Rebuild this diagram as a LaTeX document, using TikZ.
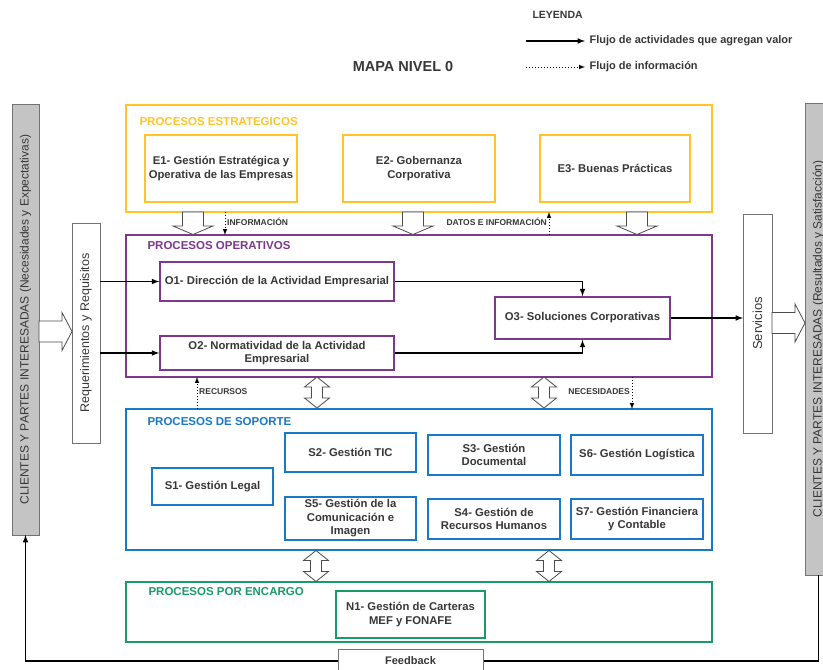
\documentclass[tikz,border=0pt]{standalone}
\usepackage{fontspec}
\setmainfont{Liberation Sans}
\usepackage{xcolor}

\definecolor{estrat}{RGB}{255,196,40}
\definecolor{operat}{RGB}{125,55,140}
\definecolor{soport}{RGB}{25,120,200}
\definecolor{encarg}{RGB}{25,155,105}
\definecolor{boxtext}{RGB}{55,55,55}
\definecolor{clientgray}{RGB}{196,196,196}

\tikzset{
  group/.style={draw, line width=1.8pt, outer sep=0pt, minimum width=586pt},
  proc/.style={draw, line width=1.6pt, fill=white, text=boxtext, align=center, inner sep=1pt,
    font=\bfseries\fontsize{11.3}{13.5}\selectfont},
  grouplabel/.style={anchor=west, font=\bfseries\fontsize{11.5}{13}\selectfont},
  legendtext/.style={anchor=west, text=boxtext, font=\bfseries\fontsize{11}{13}\selectfont},
  infolabel/.style={text=boxtext, font=\bfseries\fontsize{8.5}{10}\selectfont, inner sep=1pt},
  sidebox/.style={draw=black!55, line width=0.8pt, outer sep=0pt},
  sidetext/.style={rotate=90, text=boxtext, font=\fontsize{12}{14}\selectfont},
  flow/.style={line width=1.5pt, -latex},
  info/.style={line width=1pt, dotted, -latex},
  hollow/.style={draw=black!70, line width=0.8pt, fill=white},
  blockdown/.pic={\draw[hollow] (-10.5,0) -- (10.5,0) -- (10.5,14) -- (20,14) -- (0,22.5) -- (-20,14) -- (-10.5,14) -- cycle;},
  blockright/.pic={\draw[hollow] (0,-10.5) -- (23,-10.5) -- (23,-19) -- (33,0) -- (23,19) -- (23,10.5) -- (0,10.5) -- cycle;},
  blockupdown/.pic={\draw[hollow] (0,0) -- (12.5,10) -- (5.5,10) -- (5.5,21) -- (12.5,21) -- (0,31) -- (-12.5,21) -- (-5.5,21) -- (-5.5,10) -- (-12.5,10) -- cycle;}
}

\begin{document}
\begin{tikzpicture}[x=1pt,y=-1pt]
    \useasboundingbox (0,0) rectangle (823,670);
    % Title and legend:
    \node[text=boxtext, font=\bfseries\fontsize{14.5}{16}\selectfont] (title) at (403,67) {MAPA NIVEL 0};
    \node[legendtext, font=\bfseries\fontsize{10.5}{12}\selectfont] (legend) at (529,15) {LEYENDA};
    \coordinate (legA1) at (526,41);
    \coordinate (legA2) at (585,41);
    \coordinate (legB1) at (526,67);
    \coordinate (legB2) at (585,67);
    \draw[flow] (legA1) -- (legA2);
    \draw[info] (legB1) -- (legB2);
    \node[legendtext] (legflow) at (586,41) {Flujo de actividades que agregan valor};
    \node[legendtext] (leginfo) at (586,67) {Flujo de información};

    % Process groups:
    \node[group, draw=estrat, minimum height=107pt] (estrategicos) at (419,158.5) {};
    \node[group, draw=operat, minimum height=142pt] (operativos) at (419,306) {};
    \node[group, draw=soport, minimum height=141pt] (soporte) at (419,479.5) {};
    \node[group, draw=encarg, minimum height=60pt] (encargo) at (419,612) {};
    \node[grouplabel, text=estrat] (lblE) at (136,122) {PROCESOS ESTRATEGICOS};
    \node[grouplabel, text=operat] (lblO) at (144,246) {PROCESOS OPERATIVOS};
    \node[grouplabel, text=soport] (lblS) at (144,422) {PROCESOS DE SOPORTE};
    \node[grouplabel, text=encarg] (lblN) at (145,592) {PROCESOS POR ENCARGO};

    % Strategic processes:
    \node[proc, draw=estrat, minimum width=152pt, minimum height=67pt] (E1) at (221,168.5) {E1- Gestión Estratégica y\\Operativa de las Empresas};
    \node[proc, draw=estrat, minimum width=152pt, minimum height=67pt] (E2) at (419,168.5) {E2- Gobernanza\\Corporativa};
    \node[proc, draw=estrat, minimum width=150pt, minimum height=67pt] (E3) at (615,168.5) {E3- Buenas Prácticas};

    % Operative processes:
    \node[proc, draw=operat, minimum width=234pt, minimum height=39pt] (O1) at (277,281.5) {O1- Dirección de la Actividad Empresarial};
    \node[proc, draw=operat, minimum width=234pt, minimum height=34pt] (O2) at (277,353) {O2- Normatividad de la Actividad\\Empresarial};
    \node[proc, draw=operat, minimum width=175pt, minimum height=42pt] (O3) at (582.5,318) {O3- Soluciones Corporativas};

    % Support processes:
    \node[proc, draw=soport, minimum width=121pt, minimum height=37pt] (S1) at (212.5,486.5) {S1- Gestión Legal};
    \node[proc, draw=soport, minimum width=131pt, minimum height=39pt] (S2) at (350.5,452.5) {S2- Gestión TIC};
    \node[proc, draw=soport, minimum width=132pt, minimum height=40pt] (S3) at (494,455) {S3- Gestión\\Documental};
    \node[proc, draw=soport, minimum width=132pt, minimum height=40pt] (S6) at (637,455) {S6- Gestión Logística};
    \node[proc, draw=soport, minimum width=131pt, minimum height=43pt] (S5) at (350.5,518.5) {S5- Gestión de la\\Comunicación e\\Imagen};
    \node[proc, draw=soport, minimum width=132pt, minimum height=40pt] (S4) at (494,519) {S4- Gestión de\\Recursos Humanos};
    \node[proc, draw=soport, minimum width=132pt, minimum height=40pt] (S7) at (637,519) {S7- Gestión Financiera\\y Contable};

    % Processes on commission:
    \node[proc, draw=encarg, minimum width=149pt, minimum height=47pt] (N1) at (410.5,614.5) {N1- Gestión de Carteras\\MEF y FONAFE};

    % Clients, requirements and services:
    \node[sidebox, fill=clientgray, minimum width=27pt, minimum height=431pt] (clientin) at (25.5,319.5) {};
    \node[sidetext] (clientintxt) at (clientin) {CLIENTES Y PARTES INTERESADAS (Necesidades y Expectativas)};
    \node[sidebox, fill=clientgray, minimum width=27pt, minimum height=472pt] (clientout) at (818.5,339) {};
    \node[sidetext] (clientouttxt) at (clientout) {CLIENTES Y PARTES INTERESADAS (Resultados y Satisfacción)};
    \node[sidebox, fill=white, minimum width=28pt, minimum height=220pt] (req) at (86,333) {};
    \node[sidetext, font=\fontsize{12.5}{14}\selectfont] (reqtxt) at (req) {Requerimientos y Requisitos};
    \node[sidebox, fill=white, minimum width=29pt, minimum height=219pt] (serv) at (757.5,323.5) {};
    \node[sidetext, font=\fontsize{13}{14}\selectfont] (servtxt) at (serv) {Servicios};

    % Value flows:
    \draw[flow] (req.east |- O1.west) -- (O1.west);
    \draw[flow] (req.east |- O2.west) -- (O2.west);
    \draw[flow] (O1.east) -| (O3.north);
    \draw[flow] (O2.east) -| (O3.south);
    \draw[flow] (O3.east) -- (serv.west |- O3.east);

    % Block arrows:
    \pic at (193,212) {blockdown};
    \pic at (413,212) {blockdown};
    \pic at (637,212) {blockdown};
    \pic at (39,331.5) {blockright};
    \pic at (772,323) {blockright};
    \pic at (317,377) {blockupdown};
    \pic at (544,377) {blockupdown};
    \pic at (316,550.5) {blockupdown};
    \pic at (549,550.5) {blockupdown};

    % Information flows:
    \coordinate (xInfo) at (225,0);
    \coordinate (xDatos) at (549,0);
    \coordinate (xRec) at (197,0);
    \coordinate (xNec) at (632,0);
    \draw[info] (estrategicos.south -| xInfo) -- (operativos.north -| xInfo);
    \draw[info] (operativos.north -| xDatos) -- (estrategicos.south -| xDatos);
    \draw[info] (soporte.north -| xRec) -- (operativos.south -| xRec);
    \draw[info] (operativos.south -| xNec) -- (soporte.north -| xNec);
    \node[infolabel, anchor=west] (lblInfo) at (226,222) {INFORMACIÓN};
    \node[infolabel, anchor=east] (lblDatos) at (548,222) {DATOS E INFORMACIÓN};
    \node[infolabel, anchor=west] (lblRec) at (198,392) {RECURSOS};
    \node[infolabel, anchor=east] (lblNec) at (631,392) {NECESIDADES};

    % Feedback:
    \coordinate (fbline) at (410.5,661);
    \draw[flow] (clientout.south) |- (fbline) -| (clientin.south);
    \node[sidebox, fill=white, minimum width=145pt, minimum height=24pt, text=boxtext, font=\bfseries\fontsize{11}{13}\selectfont] (feedback) at (410.5,661) {Feedback};
\end{tikzpicture}
\end{document}
